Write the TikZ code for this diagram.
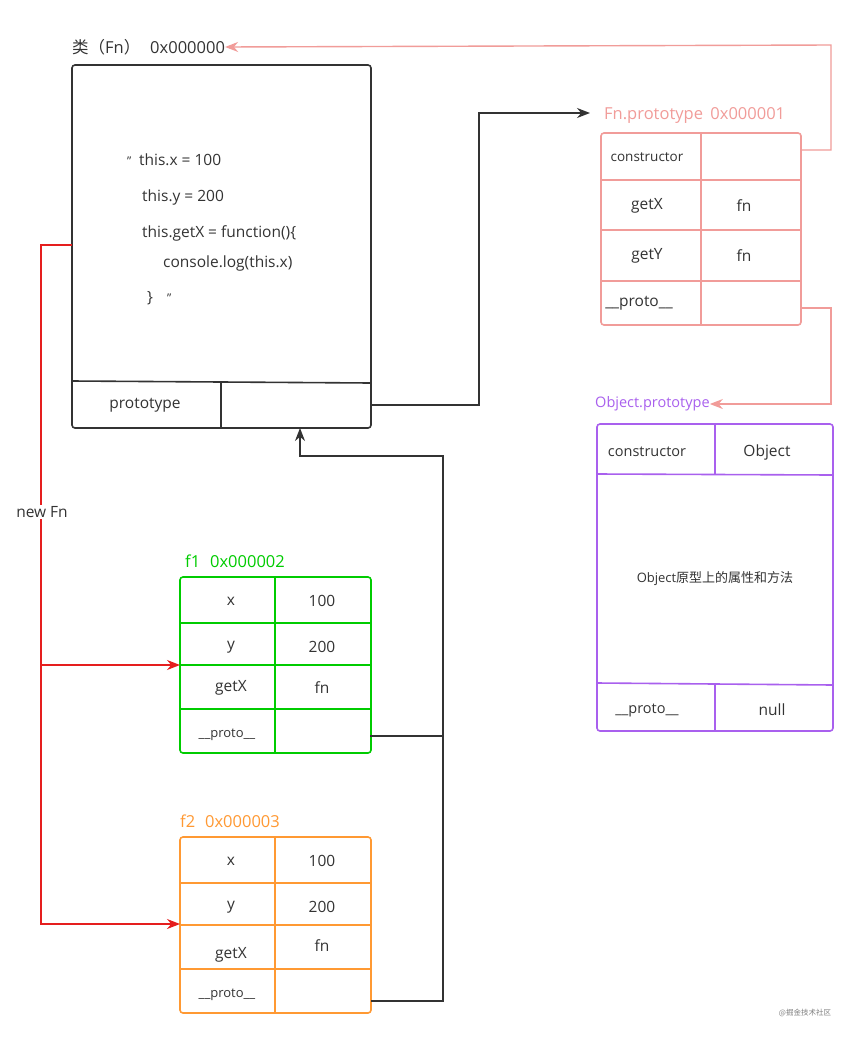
\documentclass[tikz,border=0pt]{standalone}
\usepackage{fontspec}
\setmainfont{Open Sans}
\newfontfamily\cjkf{Noto Sans CJK SC}
\usetikzlibrary{arrows.meta}
\definecolor{ink}{HTML}{333333}
\definecolor{pink}{HTML}{F19C99}
\definecolor{purp}{HTML}{A960EE}
\definecolor{grn}{HTML}{00CC00}
\definecolor{orng}{HTML}{FF9933}
\definecolor{redl}{HTML}{E51E1E}
\newcommand{\dq}{{\fontsize{12}{12}\selectfont\char"22\relax}}
\begin{document}
\begin{tikzpicture}[x=1pt,y=-1pt,
  txt/.style={font=\fontsize{15.5}{18}\selectfont, text=ink, inner sep=0pt},
  stxt/.style={font=\fontsize{13.5}{16}\selectfont, text=ink, inner sep=0pt},
  mtxt/.style={font=\fontsize{14.5}{17}\selectfont, text=ink, inner sep=0pt},
  ttl/.style={font=\fontsize{16.5}{19}\selectfont, inner sep=0pt, anchor=west},
  boxframe/.style={draw, line width=1.6pt, rounded corners=3pt},
  inner/.style={line width=1.6pt},
  conn/.style={line width=1.4pt},
  tip/.style={-{Stealth[length=13pt,width=10pt]}}
]
\fill[white] (0,0) rectangle (858,1039);
\useasboundingbox (0,0) rectangle (858,1039);

% ---------- Fn class box ----------
\node[ttl, text=ink] (fntitle) at (72,47) {{\cjkf 类（}Fn{\cjkf ）}\hspace{0.6em}0x000000};
\draw[boxframe, ink] (72,65) rectangle (371,428);
\coordinate (fnL) at (72,245);
\coordinate (fnprotoR) at (371,405);
\coordinate (fnB) at (300,428);
\draw[inner, ink] (72,381) -- (371,383);
\draw[inner, ink] (221,382) -- (221,428);
\node[txt] (fnprot) at (145,405) {prototype};
\node[txt, anchor=west] (c1) at (127,160) {\dq\hspace{0.5em}this.x = 100};
\node[txt, anchor=west] (c2) at (142,197) {this.y = 200};
\node[txt, anchor=west] (c3) at (142,233) {this.getX = function()\{};
\node[txt, anchor=west] (c4) at (163,263) {console.log(this.x)};
\node[txt, anchor=west] (c5) at (147,298) {\}\hspace{0.9em}\dq};

% ---------- Fn.prototype ----------
\node[ttl, text=pink] (fptitle) at (604,115) {Fn.prototype\hspace{0.45em}0x000001};
\draw[boxframe, pink] (601,133) rectangle (801,325);
\draw[inner, pink] (601,180) -- (801,180);
\draw[inner, pink] (601,230) -- (801,230);
\draw[inner, pink] (601,281) -- (801,281);
\draw[inner, pink] (701,133) -- (701,325);
\node[stxt] (fp1) at (647,157) {constructor};
\node[txt] (fp2) at (647,206) {getX};
\node[txt] (fp3) at (744,206) {fn};
\node[txt] (fp4) at (647,256) {getY};
\node[txt] (fp5) at (744,256) {fn};
\node[txt] (fp6) at (639,303) {\_\_proto\_\_};
\coordinate (fpconR) at (801,150);
\coordinate (fpprotoR) at (801,308);
\coordinate (fpIn) at (590,113);

% ---------- Object.prototype ----------
\node[ttl, text=purp, font=\fontsize{14.5}{17}\selectfont] (optitle) at (595,404) {Object.prototype};
\draw[boxframe, purp] (597,424) rectangle (833,731);
\draw[inner, purp] (597,474) -- (833,475);
\draw[inner, purp] (597,683) -- (833,685);
\draw[inner, purp] (715,424) -- (715,474);
\draw[inner, purp] (715,684) -- (715,731);
\node[mtxt] (op1) at (647,452) {constructor};
\node[txt] (op2) at (767,452) {Object};
\node[font=\fontsize{13}{16}\selectfont, text=ink, inner sep=0pt] (op3) at (715,579) {Object{\cjkf 原型上的属性和方法}};
\node[mtxt] (op4) at (647,710) {\_\_proto\_\_};
\node[txt] (op5) at (772,710) {null};

% ---------- f1 ----------
\node[ttl, text=grn] (f1title) at (185,561) {f1\hspace{0.6em}0x000002};
\draw[boxframe, grn] (180,577) rectangle (371,753);
\draw[inner, grn] (180,623) -- (371,623);
\draw[inner, grn] (180,665) -- (371,665);
\draw[inner, grn] (180,709) -- (371,709);
\draw[inner, grn] (275,577) -- (275,753);
\node[txt] (a1) at (231,601) {x};
\node[txt] (a2) at (322,601) {100};
\node[txt] (a3) at (231,647) {y};
\node[txt] (a4) at (322,647) {200};
\node[txt] (a5) at (231,688) {getX};
\node[txt] (a6) at (322,688) {fn};
\node[font=\fontsize{13}{16}\selectfont, text=ink, inner sep=0pt] (a7) at (227,735) {\_\_proto\_\_};
\coordinate (f1L) at (180,665);
\coordinate (f1protoR) at (370,736);

% ---------- f2 ----------
\node[ttl, text=orng] (f2title) at (180,821) {f2\hspace{0.6em}0x000003};
\draw[boxframe, orng] (180,837) rectangle (371,1013);
\draw[inner, orng] (180,883) -- (371,883);
\draw[inner, orng] (180,925) -- (371,925);
\draw[inner, orng] (180,969) -- (371,969);
\draw[inner, orng] (275,837) -- (275,1013);
\node[txt] (b1) at (231,861) {x};
\node[txt] (b2) at (322,861) {100};
\node[txt] (b3) at (231,907) {y};
\node[txt] (b4) at (322,907) {200};
\node[txt] (b5) at (231,955) {getX};
\node[txt] (b6) at (322,946) {fn};
\node[font=\fontsize{13}{16}\selectfont, text=ink, inner sep=0pt] (b7) at (227,995) {\_\_proto\_\_};
\coordinate (f2L) at (180,924);
\coordinate (f2protoR) at (371,1001);

% ---------- connectors ----------
\coordinate (bus) at (443,736);
\draw[conn, ink, tip] (fnprotoR) -- (479,405) -- (479,113) -- (fpIn);
\draw[conn, pink, tip] (fpconR) -- (831,150) -- (831,45) -- (fntitle.east);
\draw[conn, pink, tip] (fpprotoR) -- (831,308) -- (831,404) -- (optitle.east);
\draw[conn, ink] (f1protoR) -- (bus);
\draw[conn, ink, tip] (f2protoR) -- (443,1001) -- (443,456) -- (300,456) -- (fnB);
\coordinate (split) at (41,665);
\draw[conn, redl, tip] (fnL) -- (41,245) -- (41,924) -- (f2L);
\draw[conn, redl, tip] (split) -- (f1L);
\node[txt, fill=white, inner sep=1pt] (newfn) at (42,512) {new Fn};

\node[font=\fontsize{7.5}{8}\selectfont\cjkf, text=gray] (wm) at (805,1013) {@掘金技术社区};
\end{tikzpicture}
\end{document}
